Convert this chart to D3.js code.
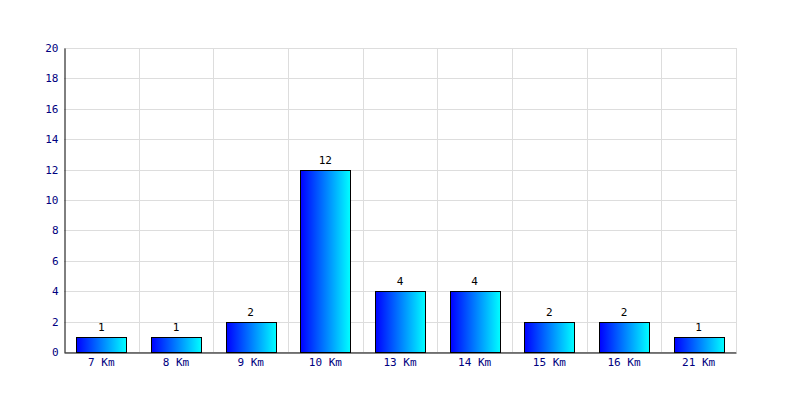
<!DOCTYPE html>
<html><head><meta charset="utf-8">
<script src="https://cdn.jsdelivr.net/npm/d3@7"></script>
<style>body{margin:0;background:#fff}svg{display:block}</style>
</head><body>
<svg id="c" width="800" height="400"></svg>
<script>
const categories = ["7 Km","8 Km","9 Km","10 Km","13 Km","14 Km","15 Km","16 Km","21 Km"];
const values = [1,1,2,12,4,4,2,2,1];
const yTicks = [0,2,4,6,8,10,12,14,16,18,20];

const svg = d3.select("#c");
const m = {l:64, r:64, t:48, b:48};
const W = 800, H = 400;
const x = d3.scaleBand().domain(categories).range([m.l, W-m.r]).paddingInner(0.33).paddingOuter(0.165);
const xs = d3.scaleBand().domain(categories).range([m.l, W-m.r]);
const y = d3.scaleLinear().domain([0,20]).range([H-m.b, m.t]);
const font = "'DejaVu Sans Mono', monospace";

const defs = svg.append("defs");
const g = defs.append("linearGradient").attr("id","grad").attr("x1","0").attr("x2","1").attr("y1","0").attr("y2","0");
g.append("stop").attr("offset","0").attr("stop-color","#0000ff");
g.append("stop").attr("offset","1").attr("stop-color","#00ffff");

// grid
svg.append("g").selectAll("line").data(yTicks).join("line")
  .attr("x1", m.l).attr("x2", W-m.r)
  .attr("y1", d=>Math.round(y(d))+0.5).attr("y2", d=>Math.round(y(d))+0.5)
  .attr("stroke","#dddddd");
svg.append("g").selectAll("line").data(categories).join("line")
  .attr("x1", d=>Math.round(xs(d)+xs.bandwidth())+0.5).attr("x2", d=>Math.round(xs(d)+xs.bandwidth())+0.5)
  .attr("y1", m.t).attr("y2", H-m.b)
  .attr("stroke","#dddddd");

// bars
svg.append("g").selectAll("rect").data(values).join("rect")
  .attr("x", (d,i)=>Math.round(x(categories[i]))+0.5)
  .attr("y", d=>Math.round(y(d))+0.5)
  .attr("width", Math.round(x.bandwidth()))
  .attr("height", d=>Math.round(y(0))-Math.round(y(d)))
  .attr("fill","url(#grad)").attr("stroke","#000").attr("stroke-width",1);

// value labels
svg.append("g").selectAll("text").data(values).join("text")
  .attr("x", (d,i)=>x(categories[i])+x.bandwidth()/2)
  .attr("y", d=>y(d)-6)
  .attr("text-anchor","middle").attr("font-family",font).attr("font-size",11).attr("fill","#000")
  .text(d=>d);

// axes
const ya = svg.append("g").attr("transform",`translate(${m.l+0.5},0)`)
  .call(d3.axisLeft(y).tickValues(yTicks).tickSize(0).tickPadding(6));
ya.select(".domain").attr("stroke","#000");
ya.selectAll("text").attr("font-family",font).attr("font-size",11).attr("fill","#000080");

const xa = svg.append("g").attr("transform",`translate(0,${H-m.b+0.5})`)
  .call(d3.axisBottom(xs).tickSize(0).tickPadding(6));
xa.select(".domain").attr("stroke","#000");
xa.selectAll("text").attr("font-family",font).attr("font-size",11).attr("fill","#000080");
</script>
</body></html>
